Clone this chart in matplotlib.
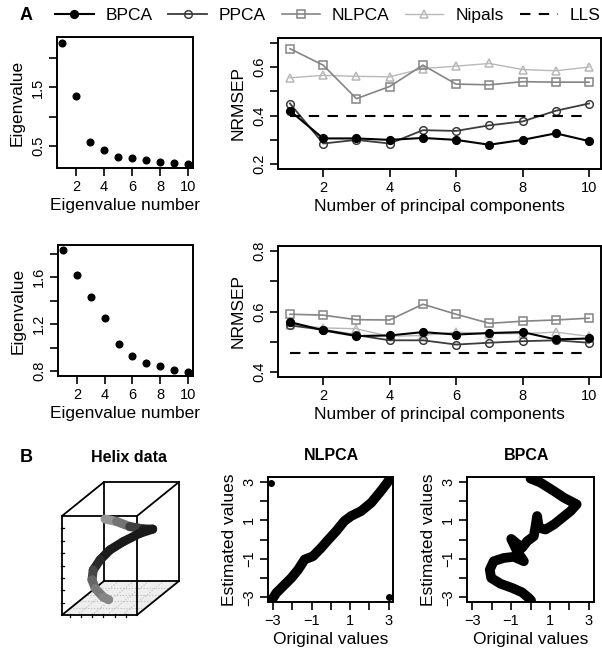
import matplotlib
matplotlib.use('Agg')
import matplotlib.pyplot as plt
from matplotlib.lines import Line2D

plt.rcParams['font.family'] = ['Liberation Sans', 'DejaVu Sans']

# ---------------- data ----------------
pc = [1, 2, 3, 4, 5, 6, 7, 8, 9, 10]
eig_top = [2.26, 1.36, 0.57, 0.44, 0.32, 0.29, 0.26, 0.23, 0.21, 0.20]
eig_bot = [1.83, 1.62, 1.43, 1.25, 1.03, 0.93, 0.87, 0.84, 0.81, 0.79]

top_bpca = [0.42, 0.306, 0.306, 0.30, 0.308, 0.30, 0.28, 0.30, 0.327, 0.295]
top_ppca = [0.45, 0.285, 0.30, 0.285, 0.34, 0.337, 0.36, 0.376, 0.42, 0.45]
top_nlpca = [0.676, 0.608, 0.47, 0.52, 0.608, 0.53, 0.527, 0.54, 0.538, 0.538]
top_nipals = [0.556, 0.566, 0.562, 0.56, 0.594, 0.604, 0.615, 0.59, 0.585, 0.60]
top_lls = 0.397

bot_bpca = [0.565, 0.538, 0.519, 0.521, 0.532, 0.524, 0.529, 0.532, 0.508, 0.511]
bot_ppca = [0.554, 0.54, 0.522, 0.505, 0.505, 0.491, 0.497, 0.502, 0.505, 0.497]
bot_nlpca = [0.591, 0.588, 0.573, 0.572, 0.624, 0.591, 0.561, 0.568, 0.572, 0.578]
bot_nipals = [0.557, 0.546, 0.543, 0.518, 0.521, 0.532, 0.527, 0.527, 0.532, 0.518]
bot_lls = 0.462

methods = ['BPCA', 'PPCA', 'NLPCA', 'Nipals', 'LLS']

# helix (3D, unit cube: x, depth, z) and shade of each point
helix_x = [0.07, 0.28, 0.54, 0.78, 0.985, 0.90, 0.75, 0.61, 0.48, 0.36, 0.26, 0.22, 0.27, 0.37]
helix_d = [0.90, 0.80, 0.65, 0.55, 0.40, 0.25, 0.12, 0.05, 0.05, 0.10, 0.25, 0.40, 0.50, 0.45]
helix_z = [0.66, 0.67, 0.67, 0.68, 0.73, 0.74, 0.70, 0.64, 0.54, 0.42, 0.27, 0.13, 0.01, 0.00]
helix_shade = [0.62, 0.55, 0.35, 0.15, 0.10, 0.10, 0.10, 0.10, 0.12, 0.20, 0.35, 0.45, 0.50, 0.55]

# NLPCA reconstruction (original vs estimated)
nl_orig = [-3.05, -2.83, -2.48, -2.05, -1.70, -1.36, -0.93, -0.50, -0.15, 0.27, 0.70, 1.05, 1.57, 2.09, 2.52, 2.86, 3.09]
nl_est = [-3.13, -2.78, -2.43, -2.00, -1.57, -1.04, -0.87, -0.43, -0.03, 0.43, 0.96, 1.22, 1.48, 1.91, 2.43, 2.87, 3.20]
nl_out_orig = [-3.12, 3.03]
nl_out_est = [2.96, -2.99]

# BPCA reconstruction
bp_orig = [0.00, 0.51, 1.20, 1.72, 2.14, 2.37, 2.06, 1.63, 1.20, 0.77, 0.43, 0.34, 0.26, 0.17, -0.17,
           -0.43, -0.99, -0.69, -0.34, -0.86, -1.37, -1.89, -2.09, -2.02, -1.54, -0.94, -0.43, -0.09, 0.03]
bp_est = [3.17, 2.96, 2.52, 2.17, 1.95, 1.83, 1.48, 1.13, 0.78, 0.52, 0.61, 1.22, 0.70, 0.17, -0.09,
          -0.43, 0.03, -0.61, -1.13, -0.90, -0.96, -1.13, -1.57, -2.00, -2.30, -2.52, -2.75, -3.04, -3.17]

# ---------------- figure ----------------
W, H = 602, 653
fig = plt.figure(figsize=(W / 100, H / 100), dpi=100)


def add_ax(l, t, r, b):
    return fig.add_axes([l / W, 1 - b / H, (r - l) / W, (b - t) / H])


def r_style(ax, xticks, xlabels, yticks, ylabels, xlim, ylim):
    ax.set_xlim(xlim)
    ax.set_ylim(ylim)
    ax.set_xticks(xticks)
    ax.set_xticklabels(xlabels)
    ax.set_yticks(yticks)
    ax.set_yticklabels(ylabels, rotation=90, va='center')
    ax.tick_params(direction='out', length=6, width=1.2, labelsize=10.5, pad=2.5,
                   colors='black')
    for s in ax.spines.values():
        s.set_linewidth(1.4)


LBL = 12.5

# eigenvalue plots
ax1 = add_ax(57, 37, 193, 168)
ax1.plot(pc, eig_top, 'o', color='black', ms=4.8)
r_style(ax1, [2, 4, 6, 8, 10], ['2', '4', '6', '8', '10'],
        [0.5, 1.0, 1.5, 2.0], ['0.5', '', '1.5', ''], (0.64, 10.36), (0.125, 2.36))
ax1.set_xlabel('Eigenvalue number', fontsize=LBL, labelpad=3)
ax1.set_ylabel('Eigenvalue', fontsize=LBL, labelpad=5)

ax3 = add_ax(58, 245, 193, 376)
ax3.plot(pc, eig_bot, 'o', color='black', ms=4.8)
r_style(ax3, [2, 4, 6, 8, 10], ['2', '4', '6', '8', '10'],
        [0.8, 1.0, 1.2, 1.4, 1.6, 1.8], ['0.8', '', '1.2', '', '1.6', ''], (0.64, 10.36), (0.757, 1.875))
ax3.set_xlabel('Eigenvalue number', fontsize=LBL, labelpad=3)
ax3.set_ylabel('Eigenvalue', fontsize=LBL, labelpad=5)

styles = {
    'BPCA': dict(color='black', marker='o', mfc='black', ls='-', lw=1.5),
    'PPCA': dict(color='#3c3c3c', marker='o', mfc='none', ls='-', lw=1.3),
    'NLPCA': dict(color='#858585', marker='s', mfc='none', ls='-', lw=1.2),
    'Nipals': dict(color='#b8b8b8', marker='^', mfc='none', ls='-', lw=1.0),
    'LLS': dict(color='black', marker=None, ls=(0, (5, 4)), lw=1.5),
}


def nrmse(ax, bpca, ppca, nlpca, nipals, lls):
    for name, vals in [('Nipals', nipals), ('NLPCA', nlpca), ('PPCA', ppca), ('BPCA', bpca)]:
        st = styles[name]
        ax.plot(pc, vals, color=st['color'], marker=st['marker'], mfc=st['mfc'],
                ls=st['ls'], lw=st['lw'], ms=5.5, mew=1.1)
    st = styles['LLS']
    ax.plot([pc[0], pc[-1]], [lls, lls], color=st['color'], ls=st['ls'], lw=st['lw'])


ax2 = add_ax(278, 38, 601, 169)
nrmse(ax2, top_bpca, top_ppca, top_nlpca, top_nipals, top_lls)
r_style(ax2, [2, 4, 6, 8, 10], ['2', '4', '6', '8', '10'],
        [0.2, 0.3, 0.4, 0.5, 0.6, 0.7], ['0.2', '', '0.4', '', '0.6', ''], (0.64, 10.36), (0.18, 0.72))
ax2.set_xlabel('Number of principal components', fontsize=LBL, labelpad=3)
ax2.set_ylabel('NRMSEP', fontsize=LBL, labelpad=5)

ax4 = add_ax(278, 246, 601, 377)
nrmse(ax4, bot_bpca, bot_ppca, bot_nlpca, bot_nipals, bot_lls)
r_style(ax4, [2, 4, 6, 8, 10], ['2', '4', '6', '8', '10'],
        [0.4, 0.5, 0.6, 0.7, 0.8], ['0.4', '', '0.6', '', '0.8'], (0.64, 10.36), (0.384, 0.816))
ax4.set_xlabel('Number of principal components', fontsize=LBL, labelpad=3)
ax4.set_ylabel('NRMSEP', fontsize=LBL, labelpad=5)

# legend
handles = []
for name in methods:
    st = styles[name]
    handles.append(Line2D([], [], color=st['color'], marker=st['marker'],
                          mfc=st.get('mfc', 'none'), ls=st['ls'], lw=st['lw'], ms=5.5, mew=1.1))
fig.legend(handles, methods, loc='center', bbox_to_anchor=(0.545, 1 - 15 / H), ncol=5,
           frameon=False, fontsize=12.5, handlelength=2.2, handletextpad=0.7,
           columnspacing=0.9, borderaxespad=0)

fig.text(20 / W, 1 - 15 / H, 'A', fontsize=13, fontweight='bold', ha='left', va='center')
fig.text(20 / W, 1 - 458 / H, 'B', fontsize=13, fontweight='bold', ha='left', va='center')

# ---------------- helix ----------------
CX, CZ, DX, DZ = 75, 99, 42, 34


def proj(x, d, z):
    return x * CX + d * DX, z * CZ + d * DZ


axh = add_ax(52, 465, 192, 625)
axh.set_xlim(-10, 130)
axh.set_ylim(-10, 150)
axh.axis('off')

# floor with grid
fl = [proj(0, 0, 0), proj(1, 0, 0), proj(1, 1, 0), proj(0, 1, 0)]
axh.fill([p[0] for p in fl], [p[1] for p in fl], color='#eeeeee', zorder=0)
grid_vals = [0.2, 0.4, 0.6, 0.8]
for g in grid_vals:
    a, b = proj(g, 0, 0), proj(g, 1, 0)
    axh.plot([a[0], b[0]], [a[1], b[1]], color='#bbbbbb', lw=0.8, ls=':', zorder=1)
    a, b = proj(0, g, 0), proj(1, g, 0)
    axh.plot([a[0], b[0]], [a[1], b[1]], color='#bbbbbb', lw=0.8, ls=':', zorder=1)

corners = [(0, 0, 0), (1, 0, 0), (1, 1, 0), (0, 1, 0), (0, 0, 1), (1, 0, 1), (1, 1, 1), (0, 1, 1)]
edges = [(0, 1), (1, 2), (2, 3), (3, 0), (4, 5), (5, 6), (6, 7), (7, 4), (0, 4), (1, 5), (2, 6), (3, 7)]
for i, j in edges:
    a, b = proj(*corners[i]), proj(*corners[j])
    axh.plot([a[0], b[0]], [a[1], b[1]], color='black', lw=1.3, zorder=2, solid_capstyle='projecting')

zt = [0.125, 0.25, 0.375, 0.5, 0.625, 0.75, 0.875]
for z in zt:
    p = proj(0, 0, z)
    axh.plot([p[0] - 1.5, p[0] + 1.5], [p[1], p[1]], color='black', lw=0.9, zorder=2)
xt = [0.1, 0.25, 0.4, 0.55, 0.7, 0.85]
for x in xt:
    p = proj(x, 0, 0)
    axh.plot([p[0], p[0]], [p[1] - 1.5, p[1] + 1.5], color='black', lw=0.9, zorder=2)

hp = [proj(x, d, z) for x, d, z in zip(helix_x, helix_d, helix_z)]
for k in range(len(hp) - 1):
    s = (helix_shade[k] + helix_shade[k + 1]) / 2
    axh.plot([hp[k][0], hp[k + 1][0]], [hp[k][1], hp[k + 1][1]], color=str(s), lw=6.5,
             solid_capstyle='round', zorder=3)

fig.text(129 / W, 1 - 457 / H, 'Helix data', fontsize=11.5, fontweight='bold', ha='center', va='center')

# ---------------- reconstructions ----------------
ticks3 = [-3, -2, -1, 0, 1, 2, 3]
labs3 = ['\u22123', '', '\u22121', '', '1', '', '3']

ax5 = add_ax(268, 477, 393, 602)
ax5.plot(nl_orig, nl_est, color='black', lw=7, solid_capstyle='round', solid_joinstyle='round')
ax5.plot(nl_out_orig, nl_out_est, 'o', color='black', ms=4)
r_style(ax5, ticks3, labs3, ticks3, labs3, (-3.26, 3.22), (-3.25, 3.25))
ax5.set_xlabel('Original values', fontsize=LBL, labelpad=3)
ax5.set_ylabel('Estimated values', fontsize=LBL, labelpad=4)
fig.text(331 / W, 1 - 456 / H, 'NLPCA', fontsize=11.5, fontweight='bold', ha='center', va='center')

ax6 = add_ax(467, 477, 594, 602)
ax6.plot(bp_orig, bp_est, color='black', lw=7, solid_capstyle='round', solid_joinstyle='round')
r_style(ax6, ticks3, labs3, ticks3, labs3, (-3.26, 3.26), (-3.25, 3.25))
ax6.set_xlabel('Original values', fontsize=LBL, labelpad=3)
ax6.set_ylabel('Estimated values', fontsize=LBL, labelpad=4)
fig.text(527 / W, 1 - 456 / H, 'BPCA', fontsize=11.5, fontweight='bold', ha='center', va='center')

fig.savefig('out.png', dpi=100)
